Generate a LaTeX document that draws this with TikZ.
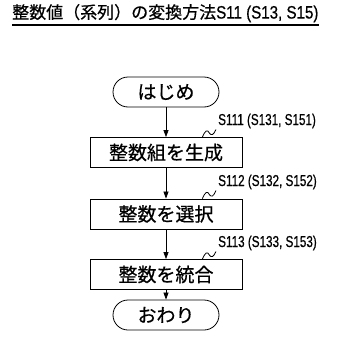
\documentclass[tikz,border=0pt]{standalone}
\usepackage{fontspec}
\setmainfont{Noto Sans CJK JP}
\newfontfamily\cjkfont[FakeBold=0.6]{Noto Sans CJK JP}
\newfontfamily\narrowfont[FakeStretch=0.74,FakeBold=0.5]{Liberation Sans}
\newfontfamily\titlenarrow[FakeStretch=0.84,FakeBold=0.6]{Liberation Sans}
\usetikzlibrary{arrows.meta,calc}
\begin{document}
\begin{tikzpicture}[x=1pt,y=-1pt,
  proc/.style={draw,line width=0.8pt,minimum width=152pt,minimum height=30pt,inner sep=0pt,font=\cjkfont\fontsize{19}{20}\selectfont},
  term/.style={draw,line width=0.8pt,rounded corners=15pt,minimum width=106pt,minimum height=30pt,inner sep=0pt,font=\cjkfont\fontsize{19}{20}\selectfont},
  flow/.style={line width=0.7pt,-{Triangle[length=7pt,width=5pt]}},
  lbl/.style={anchor=south west,inner sep=0pt,font=\narrowfont\fontsize{15.8}{16}\selectfont},
  squig/.style={line width=0.8pt}]
\useasboundingbox (0,0) rectangle (359,351);
\node[anchor=south west,inner sep=0pt] (title) at (12,22.5)
  {\cjkfont\fontsize{17}{18}\selectfont 整数値（系列）の変換方法\titlenarrow\fontsize{18}{18}\selectfont S11 (S13, S15)};
\draw[line width=1.1pt] (title.south west) ++(0,2.5) coordinate (ul1) -- (ul1 -| title.south east);
\node[term] (start) at (166,92) {はじめ};
\node[proc] (b1) at (166,152.5) {整数組を生成};
\node[proc] (b2) at (166,214) {整数を選択};
\node[proc] (b3) at (166,274.5) {整数を統合};
\node[term] (end) at (166,315) {おわり};
\draw[flow] (start) -- (b1);
\draw[flow] (b1) -- (b2);
\draw[flow] (b2) -- (b3);
\draw[flow] (b3) -- (end);
\node[lbl] (l1) at (218,128.5) {S111 (S131, S151)};
\node[lbl] (l2) at (218,189.5) {S112 (S132, S152)};
\node[lbl] (l3) at (218,250.5) {S113 (S133, S153)};
\foreach \b/\l in {b1/l1,b2/l2,b3/l3}{
  \coordinate (s0) at ([xshift=-40pt]\b.north east);
  \coordinate (s1) at ([xshift=-2pt,yshift=-1pt]\l.south west);
  \draw[squig] (s0) .. controls ($(s0)+(3,-7)$) and ($(s0)+(5,-8)$) .. ($(s0)+(7,-4)$)
     .. controls ($(s0)+(9,-1)$) and ($(s0)+(11,-2)$) .. (s1);
}
\end{tikzpicture}
\end{document}
